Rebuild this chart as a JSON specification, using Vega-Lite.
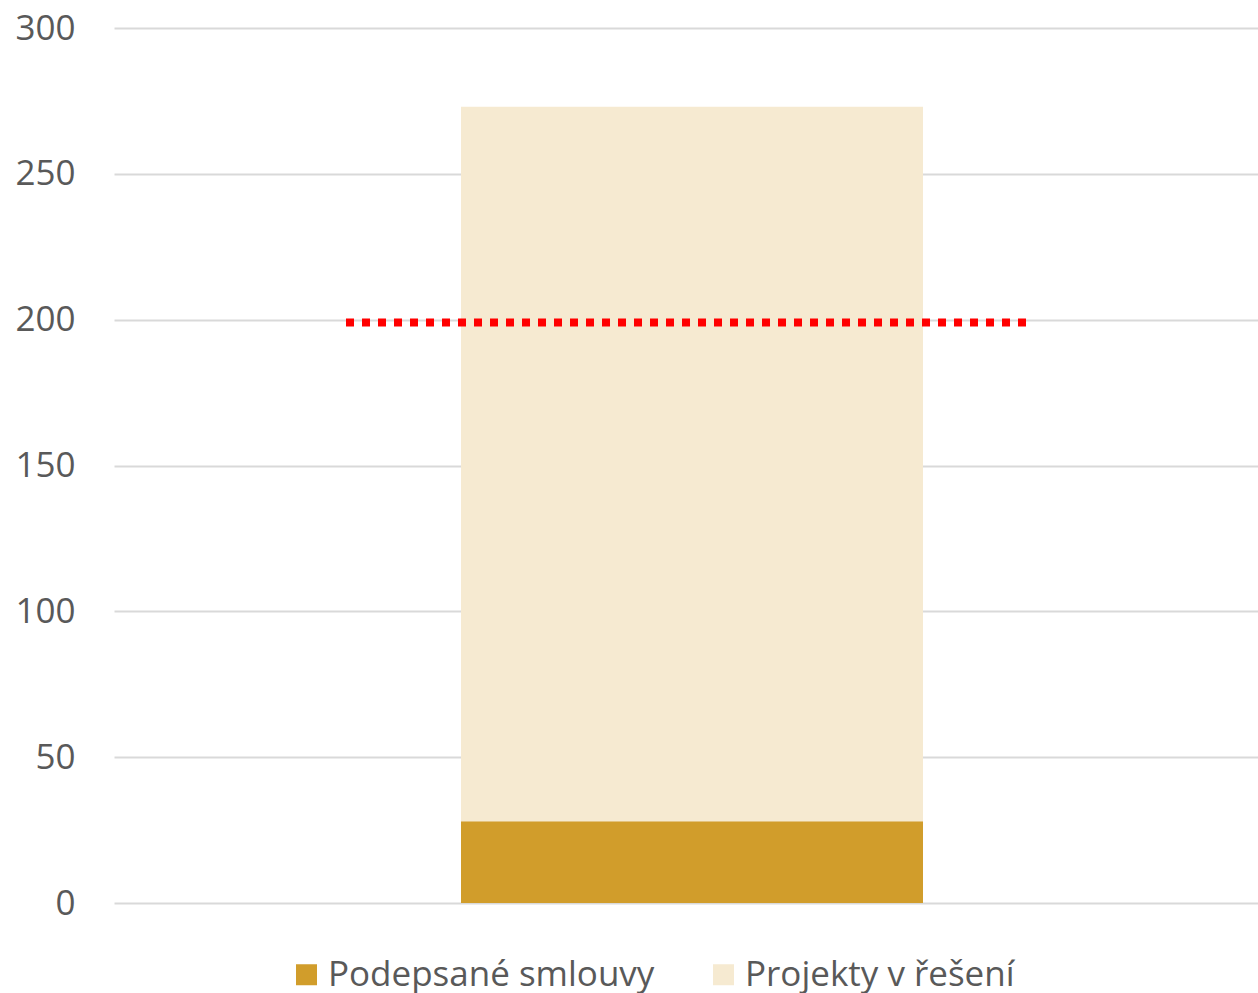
{
  "$schema": "https://vega.github.io/schema/vega-lite/v6.json",
  "autosize": "none",
  "width": 1144,
  "height": 875,
  "padding": {"left": 114, "top": 28, "right": 0, "bottom": 90},
  "background": "white",
  "config": {
    "view": {"stroke": null},
    "font": "Open Sans"
  },
  "datasets": {
    "bars": [
      {"skupina": "Celkem", "kategorie": "Podepsané smlouvy", "poradi": 1, "pocet": 28},
      {"skupina": "Celkem", "kategorie": "Projekty v řešení", "poradi": 2, "pocet": 245}
    ],
    "cil": [
      {"cil": 199}
    ]
  },
  "layer": [
    {
      "data": {"name": "bars"},
      "mark": {"type": "bar"},
      "encoding": {
        "x": {
          "field": "skupina",
          "type": "nominal",
          "axis": null,
          "scale": {"paddingInner": 0, "paddingOuter": 0.7381, "align": 0.5088}
        },
        "y": {
          "field": "pocet",
          "type": "quantitative",
          "stack": "zero",
          "scale": {"domain": [0, 300], "nice": false},
          "axis": {
            "values": [0, 50, 100, 150, 200, 250, 300],
            "title": null,
            "domain": false,
            "ticks": false,
            "labelPadding": 39,
            "labelFontSize": 35,
            "labelColor": "#595959",
            "labelFont": "Open Sans",
            "gridColor": "#D9D9D9",
            "gridWidth": 2
          }
        },
        "color": {
          "field": "kategorie",
          "type": "nominal",
          "scale": {
            "domain": ["Podepsané smlouvy", "Projekty v řešení"],
            "range": ["#D19D2B", "#F6EAD1"]
          },
          "legend": {
            "title": null,
            "orient": "none",
            "direction": "horizontal",
            "legendX": 175,
            "legendY": 929,
            "symbolType": "square",
            "symbolSize": 441,
            "symbolStrokeWidth": 0,
            "labelFontSize": 35,
            "labelColor": "#595959",
            "labelFont": "Open Sans",
            "labelOffset": 4,
            "columnPadding": 51,
            "labelLimit": 600
          }
        },
        "order": {"field": "poradi", "type": "quantitative"}
      }
    },
    {
      "data": {"name": "cil"},
      "mark": {"type": "rule", "color": "#FF0000", "strokeWidth": 8, "strokeDash": [8, 8], "strokeCap": "butt"},
      "encoding": {
        "x": {"datum": 0.2028, "type": "quantitative", "scale": {"domain": [0, 1], "nice": false, "zero": false}, "axis": null},
        "x2": {"datum": 0.7972},
        "y": {"field": "cil", "type": "quantitative"}
      }
    }
  ],
  "resolve": {"scale": {"x": "independent"}}
}
